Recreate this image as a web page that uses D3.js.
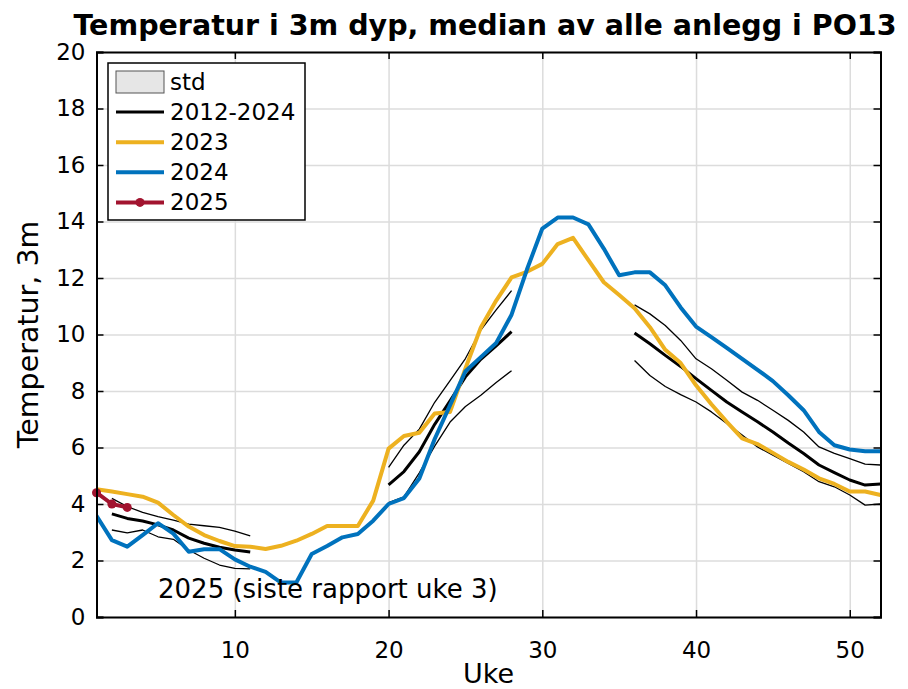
<!DOCTYPE html>
<html>
<head>
<meta charset="utf-8">
<script src="https://cdn.jsdelivr.net/npm/d3@7"></script>
<style>
  html, body { margin: 0; padding: 0; background: #fff; }
  svg { display: block; font-family: "DejaVu Sans", sans-serif; }
</style>
</head>
<body>
<svg id="chart" width="908" height="689"></svg>
<script>
// ---------- data ----------
const weeks = d3.range(1, 53);
const xTicks = [10, 20, 30, 40, 50];
const yTicks = [0, 2, 4, 6, 8, 10, 12, 14, 16, 18, 20];

const median = [null,
  3.65, 3.49, 3.40, 3.26, 3.08, 2.79, 2.61, 2.47, 2.37, 2.30,
  null, null, null, null, null, null, null, null,
  4.68, 5.15, 5.85, 6.82, 7.65, 8.50, 9.12, 9.60, 10.10,
  null, null, null, null, null, null, null,
  10.05, 9.67, 9.26, 8.87, 8.44, 8.02, 7.61, 7.26, 6.91, 6.55, 6.16, 5.79, 5.38, 5.11, 4.85, 4.67, 4.71];

const stdUpper = [null,
  4.20, 3.91, 3.70, 3.55, 3.43, 3.29, 3.23, 3.17, 3.04, 2.87,
  null, null, null, null, null, null, null, null,
  5.30, 6.08, 6.65, 7.60, 8.37, 9.15, 10.16, 10.87, 11.55,
  null, null, null, null, null, null, null,
  11.05, 10.73, 10.32, 9.79, 9.14, 8.79, 8.38, 7.96, 7.67, 7.32, 6.96, 6.55, 6.02, 5.79, 5.61, 5.41, 5.38];

const stdLower = [null,
  3.08, 2.98, 3.08, 2.84, 2.75, 2.37, 2.08, 1.84, 1.72, 1.70,
  null, null, null, null, null, null, null, null,
  4.05, 4.25, 5.10, 6.05, 6.90, 7.45, 7.85, 8.30, 8.72,
  null, null, null, null, null, null, null,
  9.08, 8.55, 8.16, 7.87, 7.61, 7.26, 6.85, 6.44, 6.02, 5.73, 5.44, 5.14, 4.79, 4.61, 4.32, 3.96, 4.00];

const y2023 = [4.52, 4.44, 4.35, 4.26, 4.05, 3.61, 3.20, 2.90, 2.69, 2.51,
  2.49, 2.41, 2.52, 2.70, 2.94, 3.22, 3.22, 3.22, 4.12, 5.96,
  6.41, 6.52, 7.20, 7.26, 8.80, 10.25, 11.20, 12.02, 12.22, 12.50,
  13.20, 13.42, 12.63, 11.85, 11.40, 10.93, 10.26, 9.46, 8.99, 8.20,
  7.53, 6.91, 6.32, 6.12, 5.81, 5.49, 5.22, 4.91, 4.71, 4.44,
  4.44, 4.32];

const y2024 = [3.58, 2.72, 2.49, 2.90, 3.32, 2.95, 2.31, 2.40, 2.40, 2.04,
  1.78, 1.60, 1.22, 1.22, 2.23, 2.51, 2.82, 2.94, 3.41, 4.00,
  4.21, 4.90, 6.30, 7.50, 8.70, 9.20, 9.70, 10.70, 12.30, 13.75,
  14.14, 14.14, 13.90, 13.04, 12.10, 12.20, 12.20, 11.74, 10.96, 10.28,
  9.91, 9.53, 9.14, 8.75, 8.35, 7.85, 7.32, 6.55, 6.08, 5.93,
  5.87, 5.87];

const weeks2025 = [1, 2, 3];
const y2025 = [4.40, 4.00, 3.88];

const titleText = "Temperatur i 3m dyp, median av alle anlegg i PO13";
const xLabel = "Uke";
const yLabel = "Temperatur, 3m";
const noteText = "2025 (siste rapport uke 3)";
const legendLabels = ["std", "2012-2024", "2023", "2024", "2025"];

// ---------- layout ----------
const C = { orange: "#EDB120", blue: "#0072BD", red: "#A2142F" };
const L = 96.5, R = 880.5, T = 52, B = 617;
const svg = d3.select("#chart");
const x = d3.scaleLinear().domain([1, 52]).range([L, R]);
const y = d3.scaleLinear().domain([0, 20]).range([B, T]);

svg.append("defs").append("clipPath").attr("id", "plotclip")
  .append("rect").attr("x", L).attr("y", T).attr("width", R - L).attr("height", B - T);

// grid
const grid = svg.append("g").attr("class", "grid");
grid.append("g").attr("transform", `translate(0,${B})`)
  .call(d3.axisBottom(x).tickValues(xTicks).tickSize(-(B - T)).tickFormat(""))
  .call(g => g.select(".domain").remove());
grid.append("g").attr("transform", `translate(${L},0)`)
  .call(d3.axisLeft(y).tickValues(yTicks).tickSize(-(R - L)).tickFormat(""))
  .call(g => g.select(".domain").remove());
grid.selectAll("line").attr("stroke", "#dcdcdc").attr("stroke-width", 1.5);

// series
const plot = svg.append("g").attr("clip-path", "url(#plotclip)");
const mk = arr => d3.line()
  .defined((d, i) => arr[i] != null)
  .x((d, i) => x(weeks[i]))
  .y((d, i) => y(arr[i]));

function drawSeries(arr, color, w) {
  plot.append("path").datum(arr)
    .attr("d", mk(arr))
    .attr("fill", "none").attr("stroke", color).attr("stroke-width", w)
    .attr("stroke-linejoin", "round").attr("stroke-linecap", "butt");
}
drawSeries(stdUpper, "#000", 1.3);
drawSeries(stdLower, "#000", 1.3);
drawSeries(median, "#000", 3);
drawSeries(y2023, C.orange, 4);
drawSeries(y2024, C.blue, 4);

const line2025 = d3.line().x((d, i) => x(weeks2025[i])).y(d => y(d));
plot.append("path").datum(y2025).attr("d", line2025)
  .attr("fill", "none").attr("stroke", C.red).attr("stroke-width", 4).attr("stroke-linejoin", "round");
svg.append("g").selectAll("circle").data(y2025).join("circle")
  .attr("cx", (d, i) => x(weeks2025[i])).attr("cy", d => y(d)).attr("r", 4.5)
  .attr("fill", C.red);

// axes
const FS = 23;
const axB = svg.append("g").attr("transform", `translate(0,${B})`)
  .call(d3.axisBottom(x).tickValues(xTicks).tickSize(-7).tickPadding(25).tickFormat(d3.format("d")));
const axL = svg.append("g").attr("transform", `translate(${L},0)`)
  .call(d3.axisLeft(y).tickValues(yTicks).tickSize(-7).tickPadding(11).tickFormat(d3.format("d")));
const axT = svg.append("g").attr("transform", `translate(0,${T})`)
  .call(d3.axisTop(x).tickValues(xTicks).tickSize(-7).tickFormat(""));
const axR = svg.append("g").attr("transform", `translate(${R},0)`)
  .call(d3.axisRight(y).tickValues(yTicks).tickSize(-7).tickFormat(""));
[axB, axL, axT, axR].forEach(a => {
  a.select(".domain").attr("stroke", "#000").attr("stroke-width", 2);
  a.selectAll(".tick line").attr("stroke", "#000").attr("stroke-width", 1.5);
  a.selectAll("text").attr("font-size", FS).attr("font-family", "DejaVu Sans").attr("fill", "#000");
});

// labels
svg.append("text").attr("x", 485).attr("y", 35)
  .attr("text-anchor", "middle").attr("font-size", 28.5).attr("font-weight", "bold")
  .text(titleText);
svg.append("text").attr("x", (L + R) / 2).attr("y", 683)
  .attr("text-anchor", "middle").attr("font-size", 27).text(xLabel);
svg.append("text").attr("transform", `translate(38,${(T + B) / 2}) rotate(-90)`)
  .attr("text-anchor", "middle").attr("font-size", 28.5).text(yLabel);
svg.append("text").attr("x", 158).attr("y", 598).attr("font-size", 26).text(noteText);

// legend
const lg = svg.append("g");
lg.append("rect").attr("x", 108).attr("y", 63).attr("width", 197).attr("height", 157)
  .attr("fill", "#fff").attr("stroke", "#000").attr("stroke-width", 1.5);
const rowY = i => 82 + i * 30.1;
lg.append("rect").attr("x", 116).attr("y", 71).attr("width", 48).attr("height", 22)
  .attr("fill", "#e6e6e6").attr("stroke", "#555").attr("stroke-width", 1);
const legendStyles = [null, ["#000", 3], [C.orange, 4], [C.blue, 4], [C.red, 4]];
legendStyles.forEach((s, i) => {
  if (!s) return;
  lg.append("line").attr("x1", 116).attr("x2", 164).attr("y1", rowY(i)).attr("y2", rowY(i))
    .attr("stroke", s[0]).attr("stroke-width", s[1]);
});
lg.append("circle").attr("cx", 140).attr("cy", rowY(4)).attr("r", 4.5).attr("fill", C.red);
lg.selectAll("text.lt").data(legendLabels).join("text").attr("class", "lt")
  .attr("x", 170).attr("y", (d, i) => rowY(i)).attr("dy", "0.35em")
  .attr("font-size", FS).text(d => d);
</script>
</body>
</html>
